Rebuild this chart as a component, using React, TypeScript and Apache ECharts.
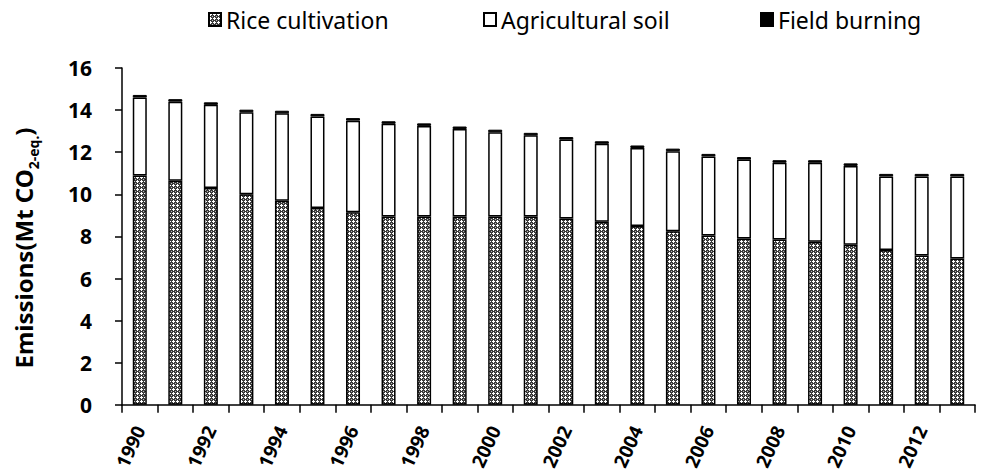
import React, { useEffect, useRef } from "react";
import * as echarts from "echarts";

const years = ["1990","1991","1992","1993","1994","1995","1996","1997","1998","1999","2000","2001","2002","2003","2004","2005","2006","2007","2008","2009","2010","2011","2012","2013"];
const riceCultivation = [10.9, 10.65, 10.3, 10.0, 9.7, 9.35, 9.15, 8.95, 8.95, 8.95, 8.95, 8.95, 8.85, 8.7, 8.5, 8.25, 8.05, 7.9, 7.85, 7.75, 7.6, 7.35, 7.1, 6.95];
const agriculturalSoil = [3.7, 3.75, 3.95, 3.9, 4.15, 4.35, 4.35, 4.4, 4.3, 4.15, 4.0, 3.85, 3.75, 3.7, 3.7, 3.8, 3.75, 3.75, 3.65, 3.75, 3.75, 3.5, 3.75, 3.9];
const fieldBurning = [0.12, 0.12, 0.12, 0.12, 0.12, 0.12, 0.12, 0.12, 0.12, 0.12, 0.12, 0.12, 0.12, 0.12, 0.12, 0.12, 0.12, 0.12, 0.12, 0.12, 0.12, 0.12, 0.12, 0.12];
const yTicks = [0, 2, 4, 6, 8, 10, 12, 14, 16];

const FONT = "'Noto Sans', 'Open Sans', sans-serif";

function makePattern(): HTMLCanvasElement {
  const c = document.createElement("canvas");
  c.width = 4;
  c.height = 4;
  const ctx = c.getContext("2d")!;
  ctx.fillStyle = "#3a3a3a";
  ctx.fillRect(0, 0, 4, 4);
  ctx.fillStyle = "#fff";
  ctx.fillRect(1, 0, 1, 3);
  ctx.fillRect(0, 1, 3, 1);
  ctx.fillStyle = "#bbb";
  ctx.fillRect(3, 3, 1, 1);
  return c;
}

export default function App() {
  const ref = useRef<HTMLDivElement>(null);
  useEffect(() => {
    if (!ref.current) return;
    const chart = echarts.init(ref.current, undefined, { renderer: "svg" });
    const pattern = makePattern();
    const barBase = { type: "bar", stack: "total", barWidth: 14 };
    chart.setOption({
      animation: false,
      textStyle: { fontFamily: FONT },
      legend: [
        { left: 203, top: 3, data: ["Rice cultivation"] },
        { left: 478, top: 3, data: ["Agricultural soil"] },
        { left: 755, top: 3, data: ["Field burning"] },
      ].map((l) => ({
        ...l,
        itemWidth: 12,
        itemHeight: 13,
        itemGap: 4,
        icon: "rect",
        textStyle: { fontSize: 23, color: "#000", fontFamily: FONT },
      })),
      grid: { left: 122, right: 6, top: 68, bottom: 67 },
      xAxis: {
        type: "category",
        data: years,
        boundaryGap: true,
        axisLine: { lineStyle: { color: "#000", width: 1.5 } },
        axisTick: { show: true, length: 8, lineStyle: { color: "#000", width: 1.5 }, interval: 0 },
        axisLabel: {
          interval: 1,
          rotate: 65,
          margin: 22,
          color: "#000",
          fontSize: 19,
          fontWeight: "bold",
          fontFamily: FONT,
        },
      },
      yAxis: {
        type: "value",
        min: yTicks[0],
        max: yTicks[yTicks.length - 1],
        interval: 2,
        splitLine: { show: false },
        axisLine: { show: true, lineStyle: { color: "#000", width: 1.5 } },
        axisTick: { show: true, inside: false, length: 7, lineStyle: { color: "#000", width: 1.5 } },
        axisLabel: { color: "#000", fontSize: 21, fontWeight: "bold", margin: 30, fontFamily: FONT },
      },
      graphic: [
        {
          type: "text",
          x: 23,
          y: 248,
          rotation: Math.PI / 2,
          style: {
            text: "{a|Emissions(Mt CO}{b|2-eq.}{a|)}",
            align: "center",
            verticalAlign: "middle",
            rich: {
              a: { fontSize: 24, fontWeight: "bold", fontFamily: FONT, fill: "#000", verticalAlign: "bottom" },
              b: { fontSize: 14, fontWeight: "bold", fontFamily: FONT, fill: "#000", verticalAlign: "bottom", padding: [0, 0, -5, 0] },
            },
          },
        },
      ],
      series: [
        {
          ...barBase,
          name: "Rice cultivation",
          data: riceCultivation,
          itemStyle: { color: { image: pattern, repeat: "repeat" }, borderColor: "#000", borderWidth: 1.5 },
        },
        {
          ...barBase,
          name: "Agricultural soil",
          data: agriculturalSoil,
          itemStyle: { color: "#fff", borderColor: "#000", borderWidth: 1.5 },
        },
        {
          ...barBase,
          name: "Field burning",
          data: fieldBurning,
          itemStyle: { color: "#000", borderColor: "#000", borderWidth: 1 },
        },
      ],
    });
    return () => chart.dispose();
  }, []);
  return <div ref={ref} style={{ width: 981, height: 473, position: "absolute", left: 0, top: 0 }} />;
}
